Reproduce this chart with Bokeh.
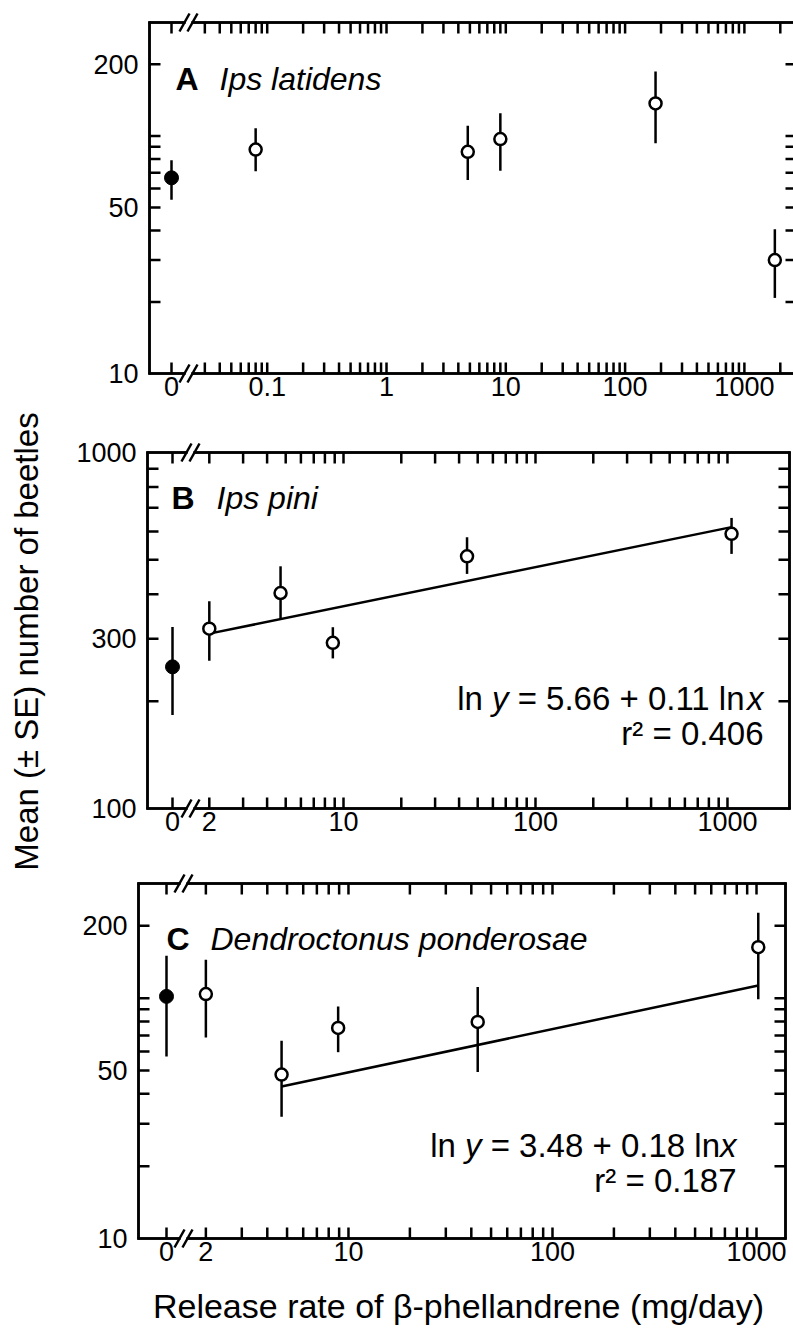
import math

from bokeh.core.properties import value
from bokeh.embed import file_html
from bokeh.layouts import column, row
from bokeh.models import ColumnDataSource, Label, Range1d
from bokeh.plotting import figure
from bokeh.resources import INLINE

FONT = "Liberation Sans"
INK = "black"

# ---------------------------------------------------------------- data
# A: Ips latidens (control = 0 mg/day, plotted left of the axis break)
a_control = 66.6
a_control_lo = 53.8
a_control_hi = 79.0
a_rate = [0.08, 4.8, 9.0, 180, 1800]
a_mean = [87.6, 85.7, 97.0, 137.0, 30.0]
a_lo = [71.0, 65.2, 71.4, 93.0, 20.8]
a_hi = [107.6, 110.2, 124.6, 186.7, 40.5]

# B: Ips pini
b_control = 250.0
b_control_lo = 183.0
b_control_hi = 323.5
b_rate = [2, 4.7, 8.8, 44, 1050]
b_mean = [320.0, 403.0, 292.0, 511.0, 591.0]
b_lo = [260.0, 341.0, 264.0, 456.0, 519.0]
b_hi = [382.0, 479.0, 323.0, 578.0, 655.0]
b_fit = (5.66, 0.11)          # ln y = a + b ln x
b_fit_from = 0                # first treated rate used in the fit
b_r2 = "0.406"

# C: Dendroctonus ponderosae
c_control = 101.7
c_control_lo = 57.2
c_control_hi = 150.0
c_rate = [2, 4.7, 8.9, 43, 1020]
c_mean = [104.0, 48.1, 75.2, 79.6, 163.0]
c_lo = [68.6, 32.1, 59.6, 49.3, 99.0]
c_hi = [144.6, 66.5, 92.3, 111.4, 226.7]
c_fit = (3.48, 0.18)
c_fit_from = 1
c_r2 = "0.187"

# ticks and tick labels
a_x_major = [0.1, 1, 10, 100, 1000]
a_x_labels = ["0", "0.1", "1", "10", "100", "1000"]
a_x_minor = [0.03, 0.04, 0.05, 0.06, 0.07, 0.08, 0.09,
             0.2, 0.3, 0.4, 0.5, 0.6, 0.7, 0.8, 0.9,
             2, 3, 4, 5, 6, 7, 8, 9,
             20, 30, 40, 50, 60, 70, 80, 90,
             200, 300, 400, 500, 600, 700, 800, 900, 2000]
bc_x_major = [2, 10, 100, 1000]
bc_x_labels = ["0", "2", "10", "100", "1000"]
bc_x_minor = [3, 4, 5, 6, 7, 8, 9,
              20, 30, 40, 50, 60, 70, 80, 90,
              200, 300, 400, 500, 600, 700, 800, 900]
ac_y_major = [10, 50, 200]
ac_y_labels = ["10", "50", "200"]
ac_y_minor = [20, 30, 40, 60, 70, 80, 90, 100]
b_y_major = [100, 300, 1000]
b_y_labels = ["100", "300", "1000"]
b_y_minor = [200, 400, 500, 600, 700, 800, 900]

TICK_PX = "27px"
TEXT_PX = 33
TICK_LEN = 11
LW = 2.5
PANEL_W = 743

# approximate Arial/Helvetica advance widths (em) for composing mixed-style text
ADV = {"l": .222, "n": .556, " ": .278, "y": .5, "=": .584, "+": .584,
       ".": .278, "x": .5, "r": .333, "²": .333}


def text_w(s, size):
    return sum(ADV.get(ch, .556) for ch in s) * size


class Geo:
    """Maps panel pixels (from top-left) onto the log-log data space."""

    def __init__(self, height, box_px, box_x, box_y):
        self.h = height
        self.l, self.r, self.t, self.b = box_px
        self.xmin, self.xmax = box_x
        self.ymin, self.ymax = box_y
        self.ppx = (self.r - self.l) / math.log10(self.xmax / self.xmin)
        self.ppy = (self.b - self.t) / math.log10(self.ymax / self.ymin)

    def x_at(self, px):
        return self.xmin * 10 ** ((px - self.l) / self.ppx)

    def y_at(self, py):
        return self.ymin * 10 ** ((self.b - py) / self.ppy)

    def dx(self, x, d):          # shift right by d pixels
        return x * 10 ** (d / self.ppx)

    def dy(self, y, d):          # shift up by d pixels
        return y * 10 ** (d / self.ppy)


def comb_h(g, x_start, x_end, y_edge, ticks, inward):
    """Horizontal edge from x_start to x_end with tick spurs; inward in px (+ = up)."""
    xs, ys = [x_start], [y_edge]
    tip = g.dy(y_edge, inward)
    for t in sorted(v for v in ticks if x_start < v < x_end):
        xs += [t, t, t]
        ys += [y_edge, tip, y_edge]
    xs.append(x_end)
    ys.append(y_edge)
    return xs, ys


def comb_v(g, x_edge, y_start, y_end, ticks, inward):
    """Vertical edge from y_start to y_end with tick spurs; inward in px (+ = right)."""
    xs, ys = [x_edge], [y_start]
    tip = g.dx(x_edge, inward)
    for t in sorted(v for v in ticks if y_start < v < y_end):
        xs += [x_edge, tip, x_edge]
        ys += [t, t, t]
    xs.append(x_edge)
    ys.append(y_end)
    return xs, ys


def make_panel(g, zero_pos, brk, x_major, x_labels, x_minor,
               y_major, y_labels, y_minor, right_edge=True):
    p = figure(width=PANEL_W, height=g.h, x_axis_type="log", y_axis_type="log",
               x_range=Range1d(g.x_at(0), g.x_at(PANEL_W)),
               y_range=Range1d(g.y_at(g.h), g.y_at(0)),
               x_axis_location=None, y_axis_location=None, title=None,
               output_backend="svg", toolbar_location=None, min_border=0,
               outline_line_color=None, background_fill_color="white",
               border_fill_color="white")
    p.grid.visible = False
    x0, x1, y0, y1 = g.xmin, g.xmax, g.ymin, g.ymax
    line_kw = dict(line_color=INK, line_width=LW)

    # frame, with a gap at the axis break on top and bottom
    b_lo, b_hi = g.dx(brk, -4), g.dx(brk, 4)
    fx0 = [x0, x0, b_hi, x0, b_hi]
    fy0 = [y0, y0, y0, y1, y1]
    fx1 = [x0, b_lo, x1, b_lo, x1]
    fy1 = [y1, y0, y0, y1, y1]
    if right_edge:
        fx0.append(x1); fy0.append(y0); fx1.append(x1); fy1.append(y1)
    p.segment(x0=fx0, y0=fy0, x1=fx1, y1=fy1, line_cap="square", **line_kw)

    # frame edges traced again as combs carrying the inward tick marks
    xt = [zero_pos] + x_major + x_minor
    yt = y_major + y_minor
    paths = [comb_h(g, x0, b_lo, y0, xt, TICK_LEN),
             comb_h(g, b_hi, x1, y0, xt, TICK_LEN),
             comb_h(g, x0, b_lo, y1, xt, -TICK_LEN),
             comb_h(g, b_hi, x1, y1, xt, -TICK_LEN),
             comb_v(g, x0, y0, y1, yt, TICK_LEN),
             comb_v(g, x1, y0, y1, yt, -TICK_LEN)]
    p.multi_line(xs=[pth[0] for pth in paths], ys=[pth[1] for pth in paths],
                 line_join="bevel", line_cap="butt", **line_kw)

    # break marks "//"
    sx0, sy0, sx1, sy1 = [], [], [], []
    for yv in (y0, y1):
        for c in (-4, 4):
            sx0.append(g.dx(brk, c - 5)); sy0.append(g.dy(yv, -9))
            sx1.append(g.dx(brk, c + 5)); sy1.append(g.dy(yv, 9))
    p.segment(x0=sx0, y0=sy0, x1=sx1, y1=sy1, **line_kw)

    # tick labels
    lab_kw = dict(text_font=value(FONT), text_font_size=value(TICK_PX),
                  text_color=INK)
    xs = [zero_pos] + x_major
    p.text(x=xs, y=[g.dy(y0, -3)] * len(xs), text=x_labels,
           text_align="center", text_baseline="top", **lab_kw)
    p.text(x=[g.dx(x0, -11)] * len(y_major), y=y_major, text=y_labels,
           text_align="right", text_baseline="middle", **lab_kw)
    return p


def draw_points(p, zero_pos, ctrl, ctrl_lo, ctrl_hi, rate, mean, lo, hi,
                fit=None, fit_from=0):
    src = ColumnDataSource(dict(x=rate, y=mean, lo=lo, hi=hi))
    p.segment(x0="x", y0="lo", x1="x", y1="hi", source=src,
              line_color=INK, line_width=LW)
    p.segment(x0=[zero_pos], y0=[ctrl_lo], x1=[zero_pos], y1=[ctrl_hi],
              line_color=INK, line_width=LW)
    if fit is not None:
        a, b = fit
        xs = [rate[fit_from], rate[-1]]
        ys = [math.exp(a + b * math.log(x)) for x in xs]
        p.line(xs, ys, line_color=INK, line_width=LW)
    p.scatter(x="x", y="y", source=src, size=12, marker="circle",
              fill_color="white", line_color=INK, line_width=LW)
    p.scatter(x=[zero_pos], y=[ctrl], size=14, marker="circle",
              fill_color=INK, line_color=INK, line_width=1)


def add_title(p, g, px_letter, px_name, py, letter, name):
    y = g.y_at(py)
    p.add_layout(Label(x=g.x_at(px_letter), y=y, text=letter, text_font=FONT,
                       text_font_size="32px", text_font_style="bold",
                       text_color=INK, text_baseline="alphabetic"))
    p.add_layout(Label(x=g.x_at(px_name), y=y, text=name, text_font=FONT,
                       text_font_size="32px", text_font_style="italic",
                       text_color=INK, text_baseline="alphabetic"))


def add_equation(p, g, px_right, py_eq, py_r2, a, b, r2):
    # (text, style, space following it)
    pieces = [("ln", "normal", " "), ("y", "italic", " "),
              (f"= {a:.2f} + {b:.2f} ln", "normal", ""), ("x", "italic", "")]
    total = sum(text_w(s + gap, TEXT_PX) for s, _, gap in pieces)
    xr, ye = g.x_at(px_right), g.y_at(py_eq)
    off = -total
    for s, st, gap in pieces:
        p.add_layout(Label(x=xr, y=ye, x_offset=off, text=s,
                           text_font=FONT, text_font_size=f"{TEXT_PX}px",
                           text_font_style=st, text_color=INK,
                           text_align="left", text_baseline="alphabetic"))
        off += text_w(s + gap, TEXT_PX)
    p.add_layout(Label(x=xr, y=g.y_at(py_r2), text=f"r² = {r2}",
                       text_font=FONT, text_font_size=f"{TEXT_PX}px",
                       text_color=INK, text_align="right",
                       text_baseline="alphabetic"))


# ---------------------------------------------------------------- panel A
ga = Geo(410, (99, 746, 22, 373), (0.01031, 2734), (10, 300))
A_ZERO = ga.x_at(121)
pa = make_panel(ga, A_ZERO, ga.x_at(138), a_x_major, a_x_labels, a_x_minor,
                ac_y_major, ac_y_labels, ac_y_minor, right_edge=False)
draw_points(pa, A_ZERO, a_control, a_control_lo, a_control_hi,
            a_rate, a_mean, a_lo, a_hi)
add_title(pa, ga, 125, 169, 78, "A", "Ips latidens")

# ---------------------------------------------------------------- panel B
gb = Geo(435, (97, 739, 42, 398), (0.953, 2104), (100, 1000))
B_ZERO = gb.x_at(122)
pb = make_panel(gb, B_ZERO, gb.x_at(140), bc_x_major, bc_x_labels, bc_x_minor,
                b_y_major, b_y_labels, b_y_minor)
draw_points(pb, B_ZERO, b_control, b_control_lo, b_control_hi,
            b_rate, b_mean, b_lo, b_hi, fit=b_fit, fit_from=b_fit_from)
add_title(pb, gb, 121, 166, 87, "B", "Ips pini")
add_equation(pb, gb, 713, 288, 323, b_fit[0], b_fit[1], b_r2)

# ---------------------------------------------------------------- panel C
gc = Geo(489, (88, 735, 38, 393), (0.935, 1387), (10, 300))
C_ZERO = gc.x_at(116)
pc = make_panel(gc, C_ZERO, gc.x_at(133), bc_x_major, bc_x_labels, bc_x_minor,
                ac_y_major, ac_y_labels, ac_y_minor)
draw_points(pc, C_ZERO, c_control, c_control_lo, c_control_hi,
            c_rate, c_mean, c_lo, c_hi, fit=c_fit, fit_from=c_fit_from)
add_title(pc, gc, 116, 160, 93, "C", "Dendroctonus ponderosae")
add_equation(pc, gc, 686, 300, 335, c_fit[0], c_fit[1], c_r2)
pc.add_layout(Label(x=gc.x_at(408), y=gc.y_at(460),
                    text="Release rate of β-phellandrene (mg/day)",
                    text_font=FONT, text_font_size="34px", text_color=INK,
                    text_align="center", text_baseline="middle"))

# ---------------------------------------------------------------- shared y label
ylab = figure(width=50, height=1334, x_range=Range1d(0, 50),
              y_range=Range1d(0, 1334), output_backend="svg", title=None,
              toolbar_location=None, x_axis_location=None,
              y_axis_location=None, min_border=0, outline_line_color=None)
ylab.grid.visible = False
ylab.add_layout(Label(x=26, y=1334 - 641, text="Mean (± SE) number of beetles",
                      angle=math.pi / 2, text_align="center",
                      text_baseline="middle", text_font=FONT,
                      text_font_size=f"{TEXT_PX}px", text_color=INK))

layout = row(ylab, column(pa, pb, pc))
open("out.html", "w").write(file_html(layout, INLINE, title="Beetle catches"))
